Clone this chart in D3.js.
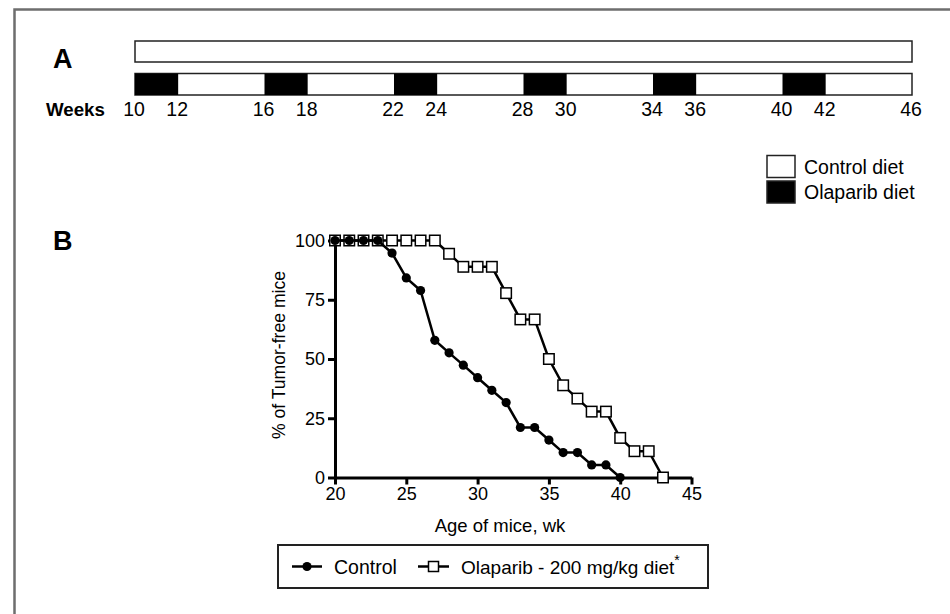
<!DOCTYPE html>
<html>
<head>
<meta charset="utf-8">
<script src="https://cdn.jsdelivr.net/npm/d3@7"></script>
<style>
  body { margin: 0; background: #fff; }
  svg { display: block; font-family: "Liberation Sans", Arial, sans-serif; }
</style>
</head>
<body>
<div id="chart"></div>
<script>
(function () {

	// ---- data ----
	var scheduleWeeks = [10, 12, 16, 18, 22, 24, 28, 30, 34, 36, 40, 42, 46];
	var olaparibBlocks = [[10, 12], [16, 18], [22, 24], [28, 30], [34, 36], [40, 42]];

	var controlWeeks = [20, 21, 22, 23, 24, 25, 26, 27, 28, 29, 30, 31, 32, 33, 34, 35, 36, 37, 38, 39, 40];
	var controlPct   = [100, 100, 100, 100, 94.7, 84.2, 78.9, 57.9, 52.6, 47.4, 42.1, 36.8, 31.6, 21.1, 21.1, 15.8, 10.5, 10.5, 5.3, 5.3, 0];

	var olaparibWeeks = [20, 21, 22, 23, 24, 25, 26, 27, 28, 29, 30, 31, 32, 33, 34, 35, 36, 37, 38, 39, 40, 41, 42, 43];
	var olaparibPct   = [100, 100, 100, 100, 100, 100, 100, 100, 94.4, 88.9, 88.9, 88.9, 77.8, 66.7, 66.7, 50, 38.9, 33.3, 27.8, 27.8, 16.7, 11.1, 11.1, 0];

	var xTicks = [20, 25, 30, 35, 40, 45];
	var yTicks = [0, 25, 50, 75, 100];

	var width = 950, height = 614;
	var fs = "19.5px";

	var svg = d3.select("#chart")
		.append("svg")
		.attr("width", width)
		.attr("height", height);

	// outer frame (only top/left visible)
	svg.append("rect")
		.attr("x", 14.5).attr("y", 9.5)
		.attr("width", 960).attr("height", 640)
		.attr("fill", "none")
		.attr("stroke", "#6e6e6e")
		.attr("stroke-width", 2.5);

	// ---------- panel A ----------
	svg.append("text")
		.attr("x", 53).attr("y", 68)
		.attr("font-size", "27px").attr("font-weight", "bold")
		.text("A");

	var wx = d3.scaleLinear().domain([10, 46]).range([135, 912]);

	// control diet bar
	svg.append("rect")
		.attr("x", wx(10)).attr("y", 41)
		.attr("width", wx(46) - wx(10)).attr("height", 21)
		.attr("fill", "#fff").attr("stroke", "#222").attr("stroke-width", 1.5);

	// alternating bar
	svg.append("rect")
		.attr("x", wx(10)).attr("y", 73.5)
		.attr("width", wx(46) - wx(10)).attr("height", 21.5)
		.attr("fill", "#fff").attr("stroke", "#222").attr("stroke-width", 1.5);

	svg.selectAll(".blk")
		.data(olaparibBlocks)
		.enter().append("rect")
		.attr("class", "blk")
		.attr("x", function(d) { return wx(d[0]); })
		.attr("y", 73.5)
		.attr("width", function(d) { return wx(d[1]) - wx(d[0]); })
		.attr("height", 21.5)
		.attr("fill", "#000");

	svg.append("text")
		.attr("x", 46).attr("y", 116)
		.attr("font-size", "18.7px").attr("font-weight", "bold")
		.text("Weeks");

	svg.selectAll(".wk")
		.data(scheduleWeeks)
		.enter().append("text")
		.attr("class", "wk")
		.attr("x", function(d) { return wx(d) - 1; })
		.attr("y", 116)
		.attr("text-anchor", "middle")
		.attr("font-size", fs)
		.text(function(d) { return d; });

	// diet legend
	var dietLegend = [["Control diet", "#fff"], ["Olaparib diet", "#000"]];
	var dl = svg.selectAll(".dl")
		.data(dietLegend)
		.enter().append("g")
		.attr("transform", function(d, i) { return "translate(767," + (155.5 + i * 25.5) + ")"; });
	dl.append("rect")
		.attr("width", 28).attr("height", 22)
		.attr("fill", function(d) { return d[1]; })
		.attr("stroke", "#222").attr("stroke-width", 1.5);
	dl.append("text")
		.attr("x", 37).attr("y", 18)
		.attr("font-size", fs)
		.text(function(d) { return d[0]; });

	// ---------- panel B ----------
	svg.append("text")
		.attr("x", 53).attr("y", 250)
		.attr("font-size", "27px").attr("font-weight", "bold")
		.text("B");

	var x = d3.scaleLinear().domain([20, 45]).range([335, 691.5]);
	var y = d3.scaleLinear().domain([0, 100]).range([477.5, 240.5]);

	var xAxis = svg.append("g")
		.attr("transform", "translate(0," + y(0) + ")")
		.call(d3.axisBottom(x).tickValues(xTicks).tickSize(7).tickSizeOuter(0).tickPadding(3));
	var yAxis = svg.append("g")
		.attr("transform", "translate(" + x(20) + ",0)")
		.call(d3.axisLeft(y).tickValues(yTicks).tickSize(7).tickSizeOuter(0).tickPadding(3));

	[xAxis, yAxis].forEach(function(a) {
		a.select(".domain").attr("stroke", "#000").attr("stroke-width", 3);
		a.selectAll(".tick line").attr("stroke", "#000").attr("stroke-width", 3);
		a.selectAll(".tick text").attr("fill", "#000").attr("font-size", "18px")
			.attr("font-family", "Liberation Sans, Arial, sans-serif");
	});

	svg.append("text")
		.attr("x", 500).attr("y", 532)
		.attr("text-anchor", "middle")
		.attr("font-size", "18.5px")
		.text("Age of mice, wk");

	svg.append("text")
		.attr("transform", "translate(285,355) rotate(-90)")
		.attr("text-anchor", "middle")
		.attr("font-size", "17.6px")
		.text("% of Tumor-free mice");

	var line = d3.line()
		.x(function(d) { return x(d[0]); })
		.y(function(d) { return y(d[1]); });

	var olaData = d3.zip(olaparibWeeks, olaparibPct);
	var ctrlData = d3.zip(controlWeeks, controlPct);

	svg.append("path")
		.datum(olaData)
		.attr("d", line)
		.attr("fill", "none").attr("stroke", "#000").attr("stroke-width", 2.5);

	svg.selectAll(".sq")
		.data(olaData)
		.enter().append("rect")
		.attr("class", "sq")
		.attr("x", function(d) { return x(d[0]) - 5.25; })
		.attr("y", function(d) { return y(d[1]) - 5.25; })
		.attr("width", 10.5).attr("height", 10.5)
		.attr("fill", "#fff").attr("stroke", "#000").attr("stroke-width", 1.5);

	svg.append("path")
		.datum(ctrlData)
		.attr("d", line)
		.attr("fill", "none").attr("stroke", "#000").attr("stroke-width", 2.5);

	svg.selectAll(".dot")
		.data(ctrlData)
		.enter().append("circle")
		.attr("class", "dot")
		.attr("cx", function(d) { return x(d[0]); })
		.attr("cy", function(d) { return y(d[1]); })
		.attr("r", 4.6)
		.attr("fill", "#000");

	// series legend
	svg.append("rect")
		.attr("x", 278).attr("y", 545)
		.attr("width", 430).attr("height", 43)
		.attr("fill", "#fff").attr("stroke", "#222").attr("stroke-width", 2);

	svg.append("line")
		.attr("x1", 292).attr("x2", 322).attr("y1", 566.5).attr("y2", 566.5)
		.attr("stroke", "#000").attr("stroke-width", 2.5);
	svg.append("circle")
		.attr("cx", 307).attr("cy", 566.5).attr("r", 4.6).attr("fill", "#000");
	svg.append("text")
		.attr("x", 334).attr("y", 574)
		.attr("font-size", fs)
		.text("Control");

	svg.append("line")
		.attr("x1", 418).attr("x2", 449).attr("y1", 566.5).attr("y2", 566.5)
		.attr("stroke", "#000").attr("stroke-width", 2.5);
	svg.append("rect")
		.attr("x", 428.5).attr("y", 561.5).attr("width", 10).attr("height", 10)
		.attr("fill", "#fff").attr("stroke", "#000").attr("stroke-width", 1.5);
	var t = svg.append("text")
		.attr("x", 461).attr("y", 574)
		.attr("font-size", "19px")
		.text("Olaparib - 200 mg/kg diet");
	t.append("tspan")
		.attr("dy", -9).attr("font-size", "14px")
		.text("*");

})();
</script>
</body>
</html>
